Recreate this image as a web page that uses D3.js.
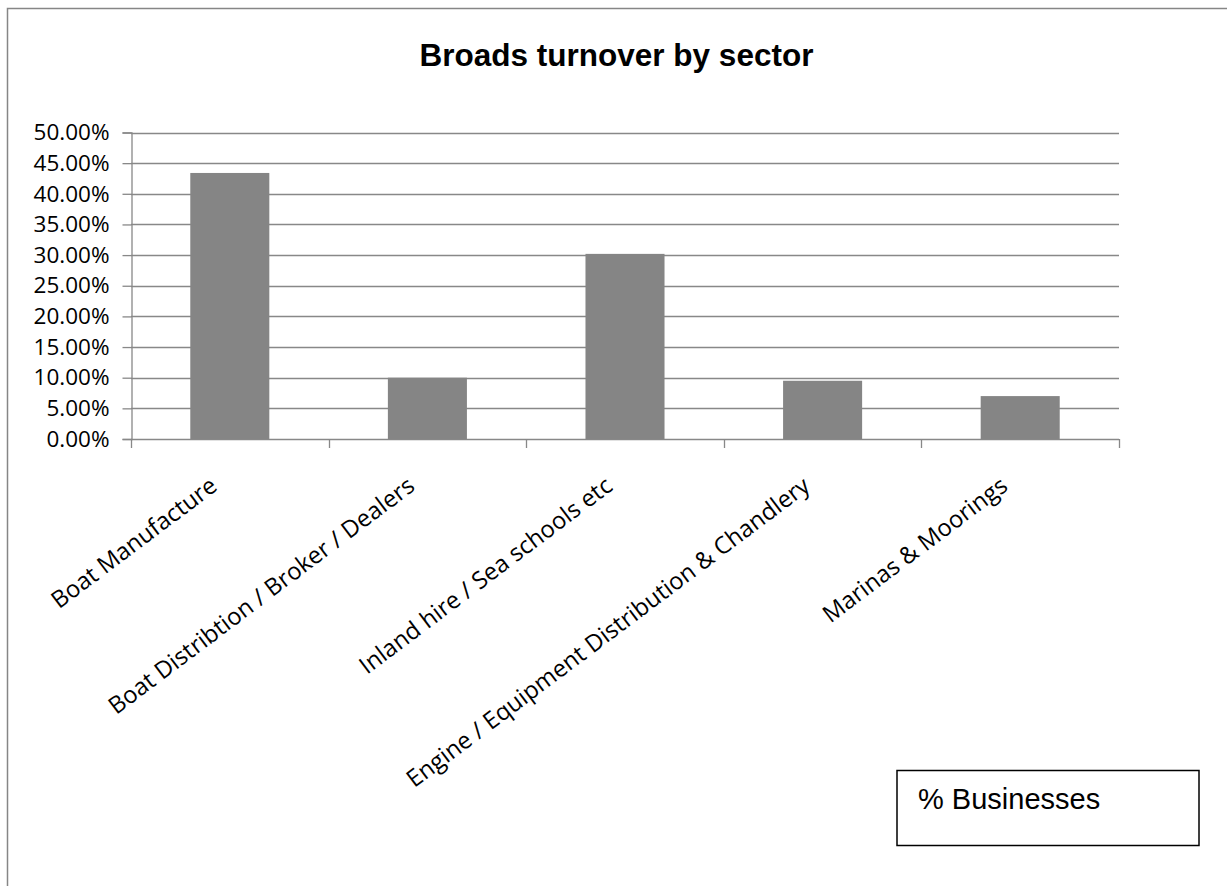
<!DOCTYPE html>
<html>
<head>
<meta charset="utf-8">
<script src="https://cdn.jsdelivr.net/npm/d3@7"></script>
<style>
  html, body { margin: 0; padding: 0; background: #ffffff; }
  svg { display: block; }
</style>
</head>
<body>
<svg id="chart" width="1227" height="886"></svg>
<script>
// Sector categories and their share of businesses
const categories = [
  "Boat Manufacture",
  "Boat Distribtion / Broker / Dealers",
  "Inland hire / Sea schools etc",
  "Engine / Equipment Distribution & Chandlery",
  "Marinas & Moorings"
];
const shares = [0.434, 0.100, 0.302, 0.095, 0.070];
const yTicks = [0, 0.05, 0.10, 0.15, 0.20, 0.25, 0.30, 0.35, 0.40, 0.45, 0.50];
const chartTitle = "Broads turnover by sector";
const seriesName = "% Businesses";

const svg = d3.select("#chart");
const W = 1227, H = 886;

const plot = { left: 131, right: 1119, top: 132.5, bottom: 439 };

// Outer chart frame
svg.append("rect")
  .attr("x", 7.5).attr("y", 8.5)
  .attr("width", W + 20).attr("height", H + 20)
  .attr("fill", "#ffffff")
  .attr("stroke", "#868686").attr("stroke-width", 1.5);

// Title
svg.append("text")
  .attr("x", 616.5).attr("y", 66)
  .attr("text-anchor", "middle")
  .attr("font-family", "'Liberation Sans', Arial, sans-serif")
  .attr("font-weight", "bold")
  .attr("font-size", 31.5)
  .attr("fill", "#000")
  .text(chartTitle);

const y = d3.scaleLinear().domain([0, 0.5]).range([plot.bottom, plot.top]);
const x = d3.scaleBand().domain(categories)
  .range([plot.left, plot.right]).paddingInner(0.6).paddingOuter(0.3);
const xCat = d3.scaleBand().domain(categories)
  .range([plot.left, plot.right]).padding(0);

// Horizontal gridlines
svg.append("g")
  .selectAll("line")
  .data(yTicks.slice(1))
  .join("line")
  .attr("x1", plot.left).attr("x2", plot.right)
  .attr("y1", d => Math.round(y(d)) + 0.5).attr("y2", d => Math.round(y(d)) + 0.5)
  .attr("stroke", "#888888").attr("stroke-width", 1.3);

// Bars
svg.append("g")
  .selectAll("rect")
  .data(categories)
  .join("rect")
  .attr("x", d => x(d))
  .attr("y", (d, i) => y(shares[i]))
  .attr("width", x.bandwidth())
  .attr("height", (d, i) => y(0) - y(shares[i]))
  .attr("fill", "#858585");

// Y axis
const yAxis = d3.axisLeft(y)
  .tickValues(yTicks)
  .tickFormat(d3.format(".2%"))
  .tickSizeOuter(0)
  .tickSize(9)
  .tickPadding(13);
const gy = svg.append("g")
  .attr("transform", `translate(${plot.left + 0.5},0)`)
  .call(yAxis);
gy.select(".domain").attr("stroke", "#888888").attr("stroke-width", 1.3);
gy.selectAll(".tick line").attr("stroke", "#888888").attr("stroke-width", 1.3);
gy.selectAll(".tick text")
  .attr("font-family", "'Open Sans', sans-serif")
  .attr("font-size", 22.5)
  .attr("fill", "#000");

// X axis line and category boundary ticks
svg.append("line")
  .attr("x1", plot.left).attr("x2", plot.right)
  .attr("y1", plot.bottom + 0.5).attr("y2", plot.bottom + 0.5)
  .attr("stroke", "#888888").attr("stroke-width", 1.3);
const bounds = categories.map(c => xCat(c)).concat([plot.right]);
svg.append("g")
  .selectAll("line")
  .data(bounds)
  .join("line")
  .attr("x1", d => Math.round(d) + 0.5).attr("x2", d => Math.round(d) + 0.5)
  .attr("y1", plot.bottom).attr("y2", plot.bottom + 9)
  .attr("stroke", "#888888").attr("stroke-width", 1.3);

// Rotated category labels
svg.append("g")
  .selectAll("text")
  .data(categories)
  .join("text")
  .attr("transform", d => `translate(${xCat(d) + xCat.bandwidth() / 2 - 11},489) rotate(-37)`)
  .attr("text-anchor", "end")
  .attr("font-family", "'Open Sans', sans-serif")
  .attr("font-size", 23.8)
  .attr("fill", "#000")
  .text(d => d);

// Legend box
const legend = svg.append("g");
legend.append("rect")
  .attr("x", 897).attr("y", 770.5)
  .attr("width", 302).attr("height", 75)
  .attr("fill", "#ffffff")
  .attr("stroke", "#000").attr("stroke-width", 1.5);
legend.append("text")
  .attr("x", 918).attr("y", 809)
  .attr("font-family", "'Liberation Sans', Arial, sans-serif")
  .attr("font-size", 29)
  .attr("fill", "#000")
  .text(seriesName);
</script>
</body>
</html>
